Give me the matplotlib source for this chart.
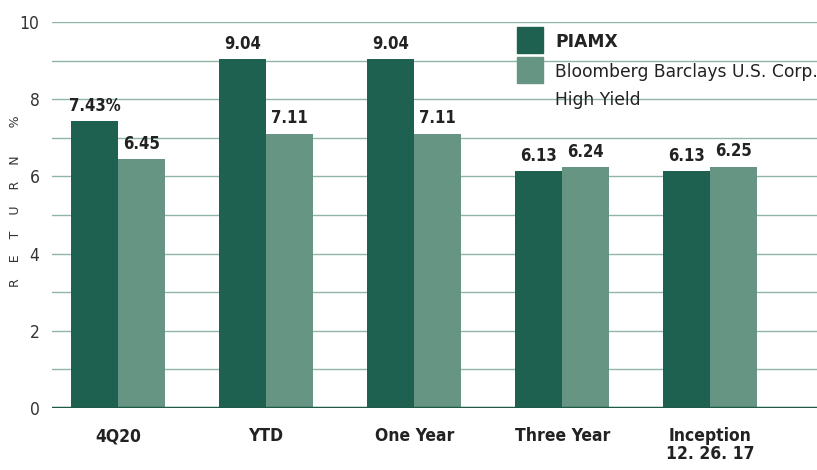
import matplotlib.pyplot as plt
from matplotlib.patches import Rectangle
import numpy as np

categories = ["4Q20", "YTD", "One Year", "Three Year", "Inception\n12. 26. 17"]
piamx = [7.43, 9.04, 9.04, 6.13, 6.13]
bench = [6.45, 7.11, 7.11, 6.24, 6.25]
piamx_labels = ["7.43%", "9.04", "9.04", "6.13", "6.13"]
bench_labels = ["6.45", "7.11", "7.11", "6.24", "6.25"]
legend_labels = ["PIAMX", "Bloomberg Barclays U.S. Corp.", "High Yield"]

dark = "#1f6150"
light = "#669584"
grid_c = "#8fb5a8"
txt = "#222222"

plt.rcParams['font.family'] = ['DejaVu Sans']

fig = plt.figure(figsize=(8.17, 4.70), dpi=100)
ax = fig.add_axes([0.0636, 0.132, 0.9364, 0.821])

x = np.arange(len(categories))
w = 0.318
ax.bar(x - w / 2, piamx, w, color=dark, zorder=3)
ax.bar(x + w / 2, bench, w, color=light, zorder=3)

for xi, v, t in zip(x, piamx, piamx_labels):
    ax.text(xi - w / 2, v + 0.17, t, ha='center', va='bottom', fontsize=12,
            fontweight='bold', fontstretch='condensed', color=txt)
for xi, v, t in zip(x, bench, bench_labels):
    ax.text(xi + w / 2, v + 0.17, t, ha='center', va='bottom', fontsize=12,
            fontweight='bold', fontstretch='condensed', color=txt)

ax.set_xlim(-0.446, 4.72)
ax.set_ylim(0, 10)

# horizontal grid every 1
for yv in range(1, 11):
    ax.axhline(yv, color=grid_c, lw=1.0, zorder=1)
ax.axhline(0, color="#1d5a48", lw=2.5, zorder=4)

for s in ax.spines.values():
    s.set_visible(False)
ax.set_yticks([0, 2, 4, 6, 8, 10])
ax.set_yticklabels(["0", "2", "4", "6", "8", "10"], fontstretch='condensed')
ax.tick_params(axis='y', length=0, labelsize=12.5, pad=9, labelcolor='#333333')
ax.set_xticks(x)
ax.set_xticklabels(categories, fontsize=12.5, fontweight='bold', va='top',
                   fontstretch='condensed', linespacing=0.95, color=txt)
ax.tick_params(axis='x', length=0, pad=14)

fig.text(0.019, 0.572, "R    E    T    U    R    N       %", rotation=90,
         ha='center', va='center', fontsize=9, color='#333333')

# legend drawn by hand to match the stacked layout
for i, c in enumerate([dark, light]):
    fig.patches.append(Rectangle((517 / 817, 1 - (53 + 30 * i) / 470),
                                 26 / 817, 26 / 470, color=c,
                                 transform=fig.transFigure, figure=fig))
ys = [42, 72, 100]
for i, (lab, yy) in enumerate(zip(legend_labels, ys)):
    fig.text(555 / 817, 1 - yy / 470, lab, ha='left', va='center',
             fontsize=12.3, color=txt, fontweight='bold' if i == 0 else 'normal')

fig.savefig("out.png", dpi=100)
